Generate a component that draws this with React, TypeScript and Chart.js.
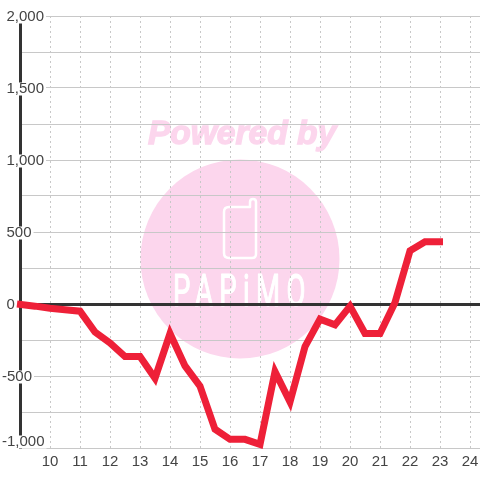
import React, { useEffect, useRef } from "react";
import { Chart, registerables } from "chart.js";

Chart.register(...registerables);

const hours = [8.9, 9.5, 10, 10.5, 11, 11.5, 12, 12.5, 13, 13.5, 14, 14.5, 15, 15.5, 16, 16.5, 17, 17.5, 18, 18.5, 19, 19.5, 20, 20.5, 21, 21.5, 22, 22.5, 23.1];
const values = [0, -15, -30, -40, -50, -195, -270, -365, -365, -515, -205, -430, -570, -870, -940, -940, -975, -470, -680, -295, -105, -145, -15, -205, -205, 10, 370, 433, 433];
const yLabelled = [2000, 1500, 1000, 500, 0, -500, -1000];
const watermarkTop = "Powered by";
const watermarkBrand = "PAPiMO";

const PINK = "#fcd6ed";

const watermark = {
  id: "watermark",
  beforeDraw(chart: any) {
    const c = chart.ctx;
    c.save();
    c.fillStyle = "#ffffff";
    c.fillRect(0, 0, chart.width, chart.height);
    c.fillStyle = PINK;
    c.beginPath();
    c.arc(240, 259, 99.5, 0, Math.PI * 2);
    c.fill();
    c.font = "italic bold 33.5px 'Liberation Sans'";
    c.textAlign = "center";
    c.textBaseline = "middle";
    c.strokeStyle = PINK;
    c.lineWidth = 1.4;
    c.fillText(watermarkTop, 242, 135);
    c.strokeText(watermarkTop, 242, 135);
    // phone logo
    c.strokeStyle = "#ffffff";
    c.lineWidth = 2.5;
    c.lineJoin = "round";
    c.beginPath();
    c.moveTo(250, 207);
    c.lineTo(229, 207);
    c.quadraticCurveTo(224, 207, 224, 212);
    c.lineTo(224, 253);
    c.quadraticCurveTo(224, 258, 229, 258);
    c.lineTo(252, 258);
    c.quadraticCurveTo(256, 258, 256, 254);
    c.lineTo(256, 202);
    c.quadraticCurveTo(256, 199, 253, 199);
    c.quadraticCurveTo(250, 199, 250, 202);
    c.closePath();
    c.stroke();
    // brand text, tall and narrow
    c.fillStyle = "#ffffff";
    c.strokeStyle = "#ffffff";
    c.lineWidth = 0.7;
    c.translate(173, 306);
    c.scale(1.06, 1.73);
    c.textAlign = "left";
    c.textBaseline = "alphabetic";
    c.font = "400 26px Roboto";
    (c as any).letterSpacing = "6px";
    c.fillText(watermarkBrand, 0, 0);
    c.strokeText(watermarkBrand, 0, 0);
    c.restore();
  },
};

function adjustYLabels(s: any) {
  if (s._labelsAdjusted) return;
  s._labelsAdjusted = true;
  const compute = s._computeLabelItems.bind(s);
  s._computeLabelItems = (area: any) => {
    const items = compute(area);
    items.forEach((item: any) => {
      const t = item.options.translation;
      const text = String(item.label);
      // the minus sign hangs to the left of the digits
      if (text.startsWith("-")) t[0] -= 4.5;
      // the lowest label is kept inside the plot
      t[1] += text === "-1,000" ? -6 : 1;
    });
    return items;
  };
}

export default function App() {
  const ref = useRef<HTMLCanvasElement>(null);
  useEffect(() => {
    const chart = new Chart(ref.current!, {
      type: "line",
      data: {
        datasets: [
          {
            data: hours.map((h, i) => ({ x: h, y: values[i] })),
            borderColor: "#ee2038",
            borderWidth: 7,
            pointRadius: 0,
            tension: 0,
            borderCapStyle: "butt",
            borderJoinStyle: "miter",
            fill: false,
            clip: false,
          },
        ],
      },
      plugins: [watermark],
      options: {
        responsive: false,
        animation: false,
        layout: { autoPadding: false, padding: { top: 16, left: 0, right: 0, bottom: 0 } },
        plugins: { legend: { display: false }, tooltip: { enabled: false }, title: { display: false } },
        scales: {
          x: {
            type: "linear",
            min: 9,
            max: 24.333,
            afterFit: (s: any) => {
              s.height = 32;
              s.paddingLeft = 0;
              s.paddingRight = 0;
            },
            grid: { color: "#c8c8c8", lineWidth: 1, drawTicks: false, z: -2 },
            border: { display: false, dash: [2, 3], z: -2 },
            ticks: {
              stepSize: 1,
              includeBounds: false,
              autoSkip: false,
              maxRotation: 0,
              padding: 5,
              color: "#444444",
              font: { family: "'Liberation Sans'", size: 15 },
              callback: (v: any) => (v === 9 ? "" : String(v)),
            },
          },
          y: {
            type: "linear",
            min: -1000,
            max: 2000,
            afterFit: (s: any) => {
              s.width = 20;
              s.paddingTop = 0;
              s.paddingBottom = 0;
              adjustYLabels(s);
            },
            grid: {
              drawTicks: false,
              z: -2,
              color: (ctx: any) => (ctx.tick && ctx.tick.value === 0 ? "#333333" : "#c8c8c8"),
              lineWidth: (ctx: any) => (ctx.tick && ctx.tick.value === 0 ? 3 : 1),
            },
            border: { display: true, color: "#333333", width: 3, z: -2 },
            ticks: {
              stepSize: 250,
              autoSkip: false,
              mirror: true,
              padding: -13.5,
              z: -1,
              color: "#444444",
              font: { family: "'Liberation Sans'", size: 15, lineHeight: 1 },
              showLabelBackdrop: true,
              backdropColor: "#ffffff",
              backdropPadding: { top: -1, bottom: -1, left: 1, right: 2 },
              callback: (v: any) => (yLabelled.includes(v) ? v.toLocaleString("en-US") : ""),
            },
          },
        },
      } as any,
    });
    return () => chart.destroy();
  }, []);
  return (
    <div style={{ position: "fixed", left: 0, top: 0, width: 480, height: 480 }}>
      <canvas ref={ref} width={480} height={480} style={{ display: "block" }} />
    </div>
  );
}
